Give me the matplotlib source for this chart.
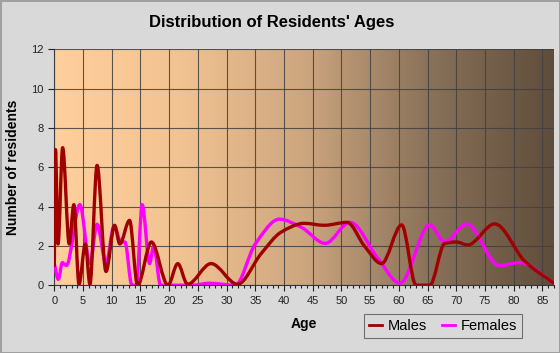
import numpy as np
import matplotlib
matplotlib.use('Agg')
import matplotlib.pyplot as plt
from matplotlib.path import Path
from matplotlib.patches import PathPatch
from matplotlib.lines import Line2D
from matplotlib.colors import LinearSegmentedColormap
from matplotlib.ticker import MultipleLocator

# values (peaks, troughs and a few in-between points)
male_age = [0, 0.2, 0.65, 1.45, 2.6, 3.4, 4.3, 5.4, 6.2, 7.45, 9.0, 10.5, 11.4,
            13.1, 14.5, 16.9, 19.8, 21.5, 23.2, 27.3, 31.9, 36.0, 39.5, 43.5,
            47.0, 51.0, 54.0, 57.0, 60.5, 63.0, 65.4, 68.0, 70.0, 72.0, 76.7,
            82.0, 87.0]
male_val = [1.0, 6.9, 2.1, 7.0, 2.1, 4.1, 0.05, 2.1, 0.05, 6.1, 0.7, 3.05, 2.1,
            3.3, 0.0, 2.2, 0.0, 1.1, 0.05, 1.1, 0.05, 1.6, 2.7, 3.15,
            3.05, 3.2, 2.0, 1.1, 3.07, 0.0, 0.0, 2.13, 2.2, 2.05, 3.12,
            1.2, 0.1]

female_age = [0, 0.7, 1.4, 2.1, 4.45, 6.2, 7.45, 9.0, 10.4, 11.6, 12.3, 13.5,
              14.3, 15.3, 16.6, 17.3, 18.5, 24.0, 27.0, 31.5, 35.0, 39.2, 43.0,
              47.2, 51.5, 56.4, 60.2, 65.4, 68.0, 71.8, 77.5, 81.0, 87.0]
female_val = [1.1, 0.3, 1.15, 1.0, 4.1, 1.1, 3.1, 1.1, 3.0, 2.2, 2.2, 0.0,
              0.0, 4.1, 1.1, 2.0, 0.0, 0.0, 0.1, 0.0, 2.1, 3.36, 2.95,
              2.13, 3.2, 1.35, 0.1, 3.07, 2.2, 3.12, 1.0, 1.15, 0.1]

x_ticks = list(range(0, 90, 5))
y_ticks = list(range(0, 14, 2))


def smooth_path(xs, ys):
    # monotone cubic (Fritsch-Carlson) drawn as bezier segments
    x = np.asarray(xs, float)
    y = np.asarray(ys, float)
    h = np.diff(x)
    d = np.diff(y) / h
    m = np.zeros_like(y)
    m[0], m[-1] = d[0], d[-1]
    for k in range(1, len(x) - 1):
        if d[k - 1] * d[k] > 0:
            w1 = 2 * h[k] + h[k - 1]
            w2 = h[k] + 2 * h[k - 1]
            m[k] = (w1 + w2) / (w1 / d[k - 1] + w2 / d[k])
    verts = [(x[0], y[0])]
    codes = [Path.MOVETO]
    for k in range(len(x) - 1):
        verts += [(x[k] + h[k] / 3, y[k] + m[k] * h[k] / 3),
                  (x[k + 1] - h[k] / 3, y[k + 1] - m[k + 1] * h[k] / 3),
                  (x[k + 1], y[k + 1])]
        codes += [Path.CURVE4] * 3
    return Path(verts, codes)


plt.rcParams['font.family'] = ['Liberation Sans', 'DejaVu Sans']

fig = plt.figure(figsize=(5.6, 3.53), dpi=100, facecolor='#d9d9d9',
                 edgecolor='#a0a0a0', linewidth=1)
ax = fig.add_axes([0.097, 0.192, 0.892, 0.668])

# background gradient
cmap = LinearSegmentedColormap.from_list('bg', [
    (0.0, '#ffd09c'), (0.25, '#f2c392'), (0.5, '#cda67f'),
    (0.75, '#8a725a'), (1.0, '#5f4d3b')])
ax.imshow(np.linspace(0, 1, 256).reshape(1, -1), cmap=cmap, aspect='auto',
          extent=[0, 87, 0, 12], zorder=0)

male_color = '#a00000'
female_color = '#ff00ff'
ax.add_patch(PathPatch(smooth_path(female_age, female_val), fill=False,
                       edgecolor=female_color, lw=2.4, zorder=3,
                       capstyle='round', joinstyle='round'))
ax.add_patch(PathPatch(smooth_path(male_age, male_val), fill=False,
                       edgecolor=male_color, lw=2.4, zorder=4,
                       capstyle='round', joinstyle='round'))

ax.set_xlim(0, 87)
ax.set_ylim(0, 12)
ax.set_xticks(x_ticks)
ax.set_yticks(y_ticks)
ax.xaxis.set_minor_locator(MultipleLocator(1))
ax.grid(True, color='#404040', lw=0.8, alpha=0.85)
ax.set_axisbelow(False)
for s in ['top', 'right']:
    ax.spines[s].set_visible(False)
for s in ['left', 'bottom']:
    ax.spines[s].set_color('#3a3a3a')
ax.tick_params(axis='both', labelsize=8, colors='#222222', length=4, width=0.8)
ax.tick_params(axis='x', which='minor', length=2.5, width=0.8, color='#222222')

ax.set_xlabel('Age', fontsize=10, fontweight='bold', labelpad=8)
ax.set_ylabel('Number of residents', fontsize=10, fontweight='bold', labelpad=8)
fig.text(0.486, 0.935, "Distribution of Residents' Ages", ha='center',
         va='center', fontsize=12, fontweight='bold')

handles = [Line2D([], [], color=male_color, lw=2),
           Line2D([], [], color=female_color, lw=2)]
leg = fig.legend(handles, ['Males', 'Females'], ncol=2, loc='center',
                 bbox_to_anchor=(443 / 560, 1 - 326 / 353), fontsize=10.5,
                 frameon=True, fancybox=False, handlelength=0.9,
                 handletextpad=0.4, columnspacing=1.0, borderpad=0.35)
leg.get_frame().set_edgecolor('#555555')
leg.get_frame().set_facecolor('none')
leg.get_frame().set_linewidth(0.8)

fig.savefig('out.png', dpi=100, facecolor=fig.get_facecolor(),
            edgecolor=fig.get_edgecolor())
